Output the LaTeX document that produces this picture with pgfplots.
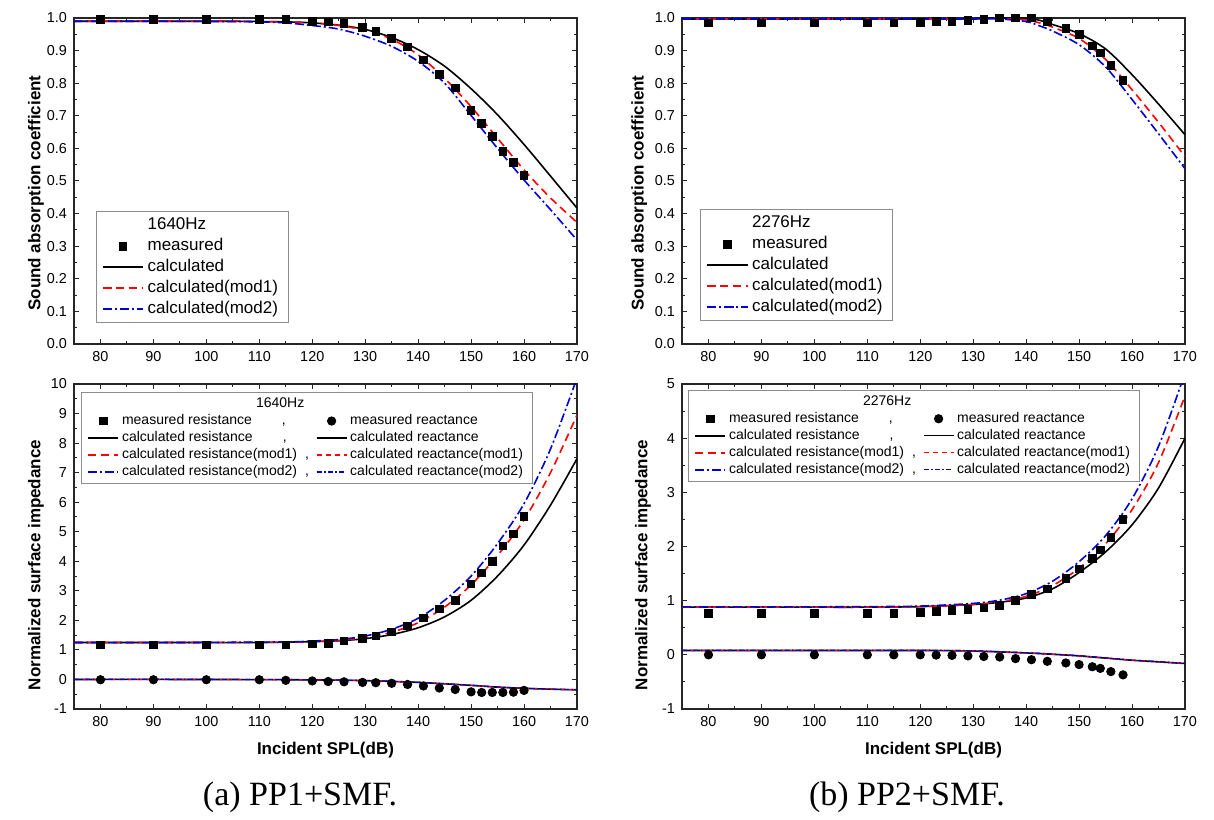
\documentclass[border=0pt]{standalone}
\usepackage{fontspec}
\setmainfont{Liberation Sans}
\newfontfamily\capfont{Liberation Serif}
\usepackage{pgfplots}
\pgfplotsset{compat=1.18}

\pgfplotsset{
  base/.style={
    scale only axis, width=251.5pt, anchor=south west,
    xmin=75, xmax=170, xtick={80,90,100,110,120,130,140,150,160,170},
    minor x tick num=1, minor y tick num=1,
    tick align=inside, major tick length=2.6pt, minor tick length=1.5pt,
    axis line style={black!85, line width=0.55pt},
    tick style={black!85, line width=0.5pt},
    tick label style={font=\fontsize{7.2}{8}\selectfont, black},
    /pgf/number format/assume math mode=true,
    label style={font=\fontsize{8.5}{10}\selectfont\bfseries},
    legend cell align=left,
  },
  top/.style={
    height=163pt, ymin=0, ymax=1,
    ytick={0,0.1,0.2,0.3,0.4,0.5,0.6,0.7,0.8,0.9,1},
    yticklabel style={/pgf/number format/.cd, fixed, fixed zerofill, precision=1},
    ylabel={Sound absorption coefficient},
    legend style={font=\fontsize{8.5}{10}\selectfont, draw=black!45, fill=white,
      line width=0.4pt, inner xsep=3pt, inner ysep=2pt, row sep=1pt,
      nodes={inner xsep=2pt, inner ysep=0.6pt, text height=6.4pt, text depth=1.9pt},
      anchor=south west},
    legend image code/.code={\draw[mark repeat=2,mark phase=2,##1] plot coordinates {(0pt,0pt)(10pt,0pt)(20pt,0pt)};},
  },
  bot/.style={
    height=162.5pt, ymin=-1,
    ylabel={Normalized surface impedance},
    xlabel={Incident SPL(dB)},
    xlabel style={at={(axis description cs:0.5,-0.126)}, anchor=center},
    legend columns=2,
    legend style={font=\fontsize{7}{8}\selectfont, draw=black!45, fill=white,
      line width=0.4pt, inner xsep=3pt, inner ysep=2pt, row sep=1pt,
      nodes={inner xsep=1.5pt, inner ysep=0.3pt, text height=5.3pt, text depth=1.6pt},
      /tikz/every even column/.append style={column sep=2pt},
      anchor=north west},
    legend image code/.code={\draw[mark repeat=2,mark phase=2,##1] plot coordinates {(0pt,0pt)(7.5pt,0pt)(15pt,0pt)};},
  },
  calc/.style={black, line width=0.8pt, smooth},
  mone/.style={red, line width=0.8pt, dash pattern=on 4pt off 2.5pt, smooth},
  mtwo/.style={blue!85!black, line width=0.8pt, dash pattern=on 4.5pt off 1.5pt on 1pt off 1.5pt, smooth},
  mone r/.style={red, line width=0.6pt, dash pattern=on 2.5pt off 2pt, smooth},
  mtwo r/.style={blue!85!black, line width=0.6pt, dash pattern=on 2.5pt off 1.2pt on 0.8pt off 1.2pt, smooth},
  meas/.style={only marks, mark=square*, mark size=1.9pt, black},
  measc/.style={only marks, mark=*, mark size=2.1pt, black},
}

\begin{document}
\begin{tikzpicture}
\path[use as bounding box] (0pt,0pt) rectangle (607pt,409.5pt);
\fill[white] (0pt,0pt) rectangle (607pt,409.5pt);

% ---------- (a) top: absorption, 1640Hz
\begin{axis}[base, top, at={(37pt,237.5pt)},
  ylabel style={at={(axis description cs:-0.0755,0.463)}, anchor=center},
  legend style={at={(0.043,0.064)}}]
\addplot[calc, forget plot] coordinates {(75,0.99) (90,0.99) (105,0.99) (115,0.988) (120,0.985) (125,0.978) (130,0.965) (135,0.94) (140,0.903) (145,0.852) (150,0.783) (155,0.703) (160,0.612) (165,0.515) (170,0.417)};
\addplot[mone, forget plot] coordinates {(75,0.99) (90,0.99) (105,0.99) (115,0.988) (120,0.985) (125,0.977) (130,0.962) (135,0.935) (140,0.887) (145,0.815) (150,0.728) (155,0.631) (160,0.534) (165,0.448) (170,0.373)};
\addplot[mtwo, forget plot] coordinates {(75,0.99) (90,0.99) (105,0.989) (110,0.988) (115,0.985) (120,0.977) (125,0.966) (130,0.944) (135,0.913) (140,0.867) (145,0.8) (150,0.701) (155,0.6) (160,0.503) (165,0.412) (170,0.319)};
\addplot[meas, forget plot] coordinates {(80,0.995) (90,0.995) (100,0.995) (110,0.995) (115,0.995) (120,0.99) (123,0.988) (126,0.983) (129.5,0.971) (132,0.958) (135,0.938) (138,0.911) (141,0.872) (144,0.827) (147,0.786) (150,0.716) (152,0.676) (154,0.637) (156,0.591) (158,0.557) (160,0.518)};
\addlegendimage{empty legend}\addlegendentry{1640Hz}
\addlegendimage{meas}\addlegendentry{measured}
\addlegendimage{calc}\addlegendentry{calculated}
\addlegendimage{mone}\addlegendentry{calculated(mod1)}
\addlegendimage{mtwo}\addlegendentry{calculated(mod2)}
\end{axis}

% ---------- (b) top: absorption, 2276Hz
\begin{axis}[base, top, at={(341pt,237.5pt)},
  ylabel style={at={(axis description cs:-0.085,0.463)}, anchor=center},
  legend style={at={(0.036,0.07)}}]
\addplot[calc, forget plot] coordinates {(75,0.997) (100,0.997) (125,0.997) (130,0.998) (135,1.0) (140,0.999) (142.5,0.993) (145,0.98) (150,0.952) (155,0.905) (160,0.826) (165,0.736) (170,0.642)};
\addplot[mone, forget plot] coordinates {(75,0.997) (100,0.997) (125,0.997) (130,0.998) (135,0.999) (140,0.994) (142.5,0.985) (145,0.972) (150,0.937) (155,0.873) (160,0.78) (165,0.68) (170,0.575)};
\addplot[mtwo, forget plot] coordinates {(75,0.997) (100,0.997) (125,0.997) (130,0.997) (135,0.997) (140,0.989) (142.5,0.976) (145,0.96) (150,0.918) (155,0.85) (160,0.75) (165,0.645) (170,0.538)};
\addplot[meas, forget plot] coordinates {(80,0.985) (90,0.985) (100,0.985) (110,0.985) (115,0.985) (120,0.987) (123,0.989) (126,0.99) (129,0.993) (132,0.995) (135,1.0) (138,1.0) (141,1.0) (144,0.99) (147.5,0.968) (150,0.949) (152.5,0.915) (154,0.893) (156,0.855) (158.3,0.809)};
\addlegendimage{empty legend}\addlegendentry{2276Hz}
\addlegendimage{meas}\addlegendentry{measured}
\addlegendimage{calc}\addlegendentry{calculated}
\addlegendimage{mone}\addlegendentry{calculated(mod1)}
\addlegendimage{mtwo}\addlegendentry{calculated(mod2)}
\end{axis}

% ---------- (a) bottom: impedance, 1640Hz
\begin{axis}[base, bot, at={(37pt,55pt)}, ymax=10,
  ytick={-1,0,1,2,3,4,5,6,7,8,9,10},
  ylabel style={at={(axis description cs:-0.0755,0.443)}, anchor=center},
  legend style={at={(0.014,0.975)}}]
% resistance
\addplot[calc, forget plot] coordinates {(75,1.25) (95,1.25) (110,1.25) (120,1.28) (125,1.31) (130,1.38) (135,1.52) (140,1.75) (145,2.12) (150,2.68) (155,3.5) (160,4.55) (165,5.9) (170,7.47)};
\addplot[mone, forget plot] coordinates {(75,1.25) (95,1.25) (115,1.26) (120,1.28) (125,1.32) (130,1.42) (135,1.6) (140,1.92) (145,2.45) (150,3.2) (155,4.2) (160,5.4) (165,7.0) (170,8.95)};
\addplot[mtwo, forget plot] coordinates {(75,1.25) (95,1.25) (115,1.27) (120,1.3) (125,1.35) (130,1.47) (135,1.7) (140,2.07) (145,2.68) (150,3.5) (155,4.6) (160,5.95) (165,7.8) (170,10.2)};
% reactance
\addplot[calc, forget plot] coordinates {(75,0.0) (95,0.0) (110,-0.005) (120,-0.015) (130,-0.04) (140,-0.1) (150,-0.2) (155,-0.26) (160,-0.3) (165,-0.33) (170,-0.35)};
\addplot[mone r, forget plot] coordinates {(75,0.0) (95,0.0) (110,-0.005) (120,-0.015) (130,-0.04) (140,-0.1) (150,-0.2) (155,-0.26) (160,-0.3) (165,-0.33) (170,-0.35)};
\addplot[mtwo r, forget plot] coordinates {(75,0.005) (95,0.005) (110,0.0) (120,-0.01) (130,-0.035) (140,-0.095) (150,-0.195) (155,-0.255) (160,-0.295) (165,-0.325) (170,-0.345)};
\addplot[meas, forget plot] coordinates {(80,1.17) (90,1.17) (100,1.17) (110,1.17) (115,1.17) (120,1.21) (123,1.23) (126,1.3) (129.5,1.38) (132,1.48) (135,1.61) (138,1.81) (141,2.08) (144,2.39) (147,2.68) (150,3.23) (152,3.61) (154,3.99) (156,4.52) (158,4.92) (160,5.52)};
\addplot[measc, forget plot] coordinates {(80,-0.01) (90,-0.01) (100,-0.01) (110,-0.01) (115,-0.03) (120,-0.05) (123,-0.07) (126,-0.08) (129.5,-0.1) (132,-0.11) (135,-0.13) (138,-0.17) (141,-0.22) (144,-0.29) (147,-0.34) (150,-0.42) (152,-0.44) (154,-0.44) (156,-0.44) (158,-0.43) (160,-0.37)};
\addlegendimage{empty legend}\addlegendentry{\hspace*{67pt}1640Hz}
\addlegendimage{empty legend}\addlegendentry{}
\addlegendimage{meas}\addlegendentry{measured resistance\hspace{15pt},}
\addlegendimage{measc}\addlegendentry{measured reactance}
\addlegendimage{calc}\addlegendentry{calculated resistance\hspace{15pt},}
\addlegendimage{calc, line width=0.6pt}\addlegendentry{calculated reactance}
\addlegendimage{mone}\addlegendentry{calculated resistance(mod1)\hspace{4pt},}
\addlegendimage{mone r}\addlegendentry{calculated reactance(mod1)}
\addlegendimage{mtwo}\addlegendentry{calculated resistance(mod2)\hspace{4pt},}
\addlegendimage{mtwo r}\addlegendentry{calculated reactance(mod2)}
\end{axis}

% ---------- (b) bottom: impedance, 2276Hz
\begin{axis}[base, bot, at={(341pt,55pt)}, ymax=5,
  ytick={-1,0,1,2,3,4,5},
  ylabel style={at={(axis description cs:-0.0775,0.443)}, anchor=center},
  legend style={at={(0.012,0.982)}}]
% resistance
\addplot[calc, forget plot] coordinates {(75,0.88) (95,0.88) (110,0.88) (120,0.89) (130,0.93) (135,0.97) (140,1.05) (145,1.22) (150,1.52) (155,1.9) (160,2.4) (165,3.08) (170,4.0)};
\addplot[mone, forget plot] coordinates {(75,0.88) (95,0.88) (110,0.88) (120,0.89) (130,0.93) (135,0.98) (140,1.08) (145,1.28) (150,1.6) (155,2.05) (160,2.68) (165,3.55) (170,4.78)};
\addplot[mtwo, forget plot] coordinates {(75,0.885) (95,0.885) (110,0.89) (120,0.9) (130,0.95) (135,1.01) (140,1.13) (145,1.36) (150,1.72) (155,2.2) (160,2.88) (165,3.85) (170,5.2)};
% reactance
\addplot[calc, forget plot] coordinates {(75,0.08) (95,0.08) (120,0.08) (130,0.07) (140,0.035) (145,0.01) (150,-0.02) (155,-0.06) (160,-0.1) (165,-0.13) (170,-0.16)};
\addplot[mone r, forget plot] coordinates {(75,0.08) (95,0.08) (120,0.08) (130,0.07) (140,0.035) (145,0.01) (150,-0.02) (155,-0.06) (160,-0.1) (165,-0.13) (170,-0.16)};
\addplot[mtwo r, forget plot] coordinates {(75,0.085) (95,0.085) (120,0.085) (130,0.075) (140,0.04) (145,0.015) (150,-0.015) (155,-0.055) (160,-0.095) (165,-0.125) (170,-0.155)};
\addplot[meas, forget plot] coordinates {(80,0.77) (90,0.77) (100,0.77) (110,0.77) (115,0.77) (120,0.78) (123,0.8) (126,0.82) (129,0.84) (132,0.87) (135,0.91) (138,1.01) (141,1.12) (144,1.22) (147.5,1.41) (150,1.59) (152.5,1.78) (154,1.94) (156,2.17) (158.3,2.5)};
\addplot[measc, forget plot] coordinates {(80,0) (90,0) (100,0) (110,0) (115,0) (120,0) (123,-0.005) (126,-0.01) (129,-0.02) (132,-0.03) (135,-0.04) (138,-0.07) (141,-0.09) (144,-0.12) (147.5,-0.15) (150,-0.18) (152.5,-0.22) (154,-0.25) (156,-0.31) (158.3,-0.37)};
\addlegendimage{empty legend}\addlegendentry{\hspace*{67pt}2276Hz}
\addlegendimage{empty legend}\addlegendentry{}
\addlegendimage{meas}\addlegendentry{measured resistance\hspace{15pt},}
\addlegendimage{measc}\addlegendentry{measured reactance}
\addlegendimage{calc}\addlegendentry{calculated resistance\hspace{15pt},}
\addlegendimage{calc, line width=0.6pt}\addlegendentry{calculated reactance}
\addlegendimage{mone}\addlegendentry{calculated resistance(mod1)\hspace{4pt},}
\addlegendimage{mone r}\addlegendentry{calculated reactance(mod1)}
\addlegendimage{mtwo}\addlegendentry{calculated resistance(mod2)\hspace{4pt},}
\addlegendimage{mtwo r}\addlegendentry{calculated reactance(mod2)}
\end{axis}

\node[font=\capfont\fontsize{17}{20}\selectfont] at (150pt,11pt) {(a) PP1+SMF.};
\node[font=\capfont\fontsize{17}{20}\selectfont] at (453.5pt,11pt) {(b) PP2+SMF.};
\end{tikzpicture}
\end{document}
